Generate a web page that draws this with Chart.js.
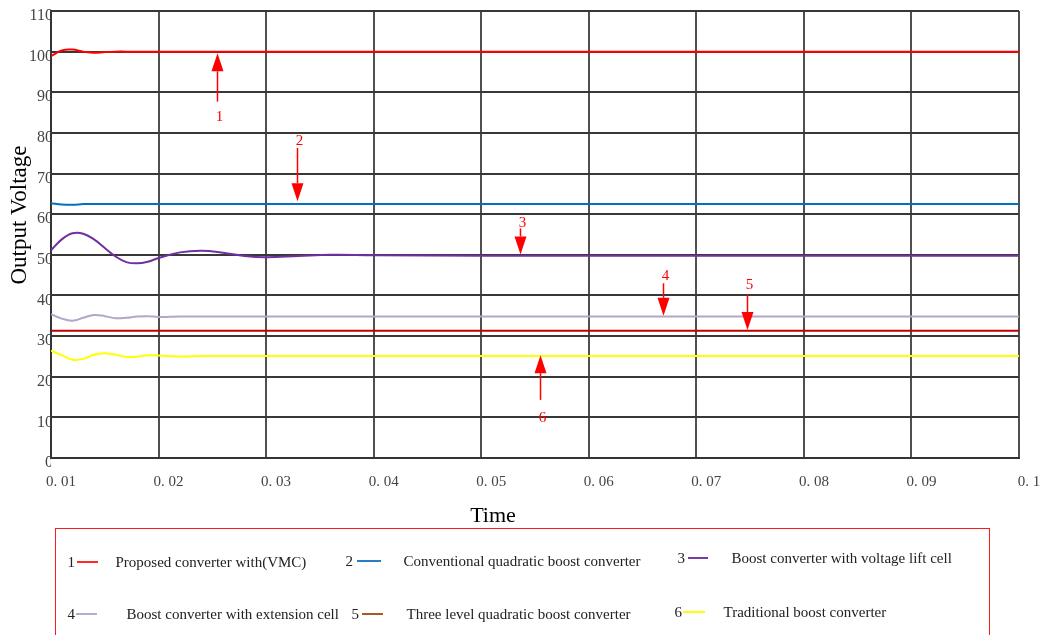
<!DOCTYPE html>
<html>
<head>
<meta charset="utf-8">
<script src="https://cdn.jsdelivr.net/npm/chart.js@4.4.1/dist/chart.umd.min.js"></script>
<style>
html, body { margin: 0; padding: 0; background: #fff; }
#wrap { position: relative; width: 1041px; height: 635px; overflow: hidden; }
#chart { position: absolute; left: 0; top: 0; }
.axis-title { position: absolute; font-family: "Liberation Serif", serif; font-size: 22px; color: #000;
  white-space: nowrap; line-height: 26px; }
#x-title { left: 443px; top: 502px; width: 100px; text-align: center; }
#y-title { left: -61px; top: 202px; width: 160px; text-align: center; transform: rotate(-90deg); font-size: 23px; }
#legend { position: absolute; left: 55px; top: 528px; width: 933px; height: 130px;
  border: 1.5px solid #ff1a1a; font-family: "Liberation Serif", serif; font-size: 15px; color: #222; }
#legend span { position: absolute; white-space: nowrap; line-height: 18px; }
#legend .swatch { height: 2px; }
</style>
</head>
<body>
<div id="wrap">
  <canvas id="chart" width="1041" height="635"></canvas>
  <div class="axis-title" id="x-title">Time</div>
  <div class="axis-title" id="y-title">Output Voltage</div>
  <div id="legend"></div>
</div>
<script>
// time axis (s)
var times = [0.01, 0.011, 0.012, 0.013, 0.014, 0.015, 0.016, 0.017, 0.018, 0.019, 0.02,
             0.022, 0.024, 0.026, 0.028, 0.03, 0.033, 0.036, 0.04, 0.05, 0.06, 0.07, 0.08, 0.09, 0.1];

// output voltage of each converter (V)
var proposedVMC   = [98.9, 100.3, 100.5, 100.0, 99.7, 99.9, 100.0, 100.0, 100.0, 100.0, 100.0,
                     100.0, 100.0, 100.0, 100.0, 100.0, 100.0, 100.0, 100.0, 100.0, 100.0, 100.0, 100.0, 100.0, 100.0];
var conventional  = [62.7, 62.4, 62.3, 62.5, 62.5, 62.5, 62.5, 62.5, 62.5, 62.5, 62.5,
                     62.5, 62.5, 62.5, 62.5, 62.5, 62.5, 62.5, 62.5, 62.5, 62.5, 62.5, 62.5, 62.5, 62.5];
var voltageLift   = [51.1, 53.8, 55.3, 55.2, 53.8, 51.7, 49.6, 48.2, 47.9, 48.3, 49.2,
                     50.6, 51.0, 50.5, 49.7, 49.4, 49.7, 50.0, 49.9, 49.8, 49.8, 49.8, 49.8, 49.8, 49.8];
var extensionCell = [35.4, 34.3, 33.8, 34.5, 35.2, 34.9, 34.4, 34.5, 34.8, 34.9, 34.7,
                     34.8, 34.8, 34.8, 34.8, 34.8, 34.8, 34.8, 34.8, 34.8, 34.8, 34.8, 34.8, 34.8, 34.8];
var threeLevel    = [31.3, 31.3, 31.3, 31.3, 31.3, 31.3, 31.3, 31.3, 31.3, 31.3, 31.3,
                     31.3, 31.3, 31.3, 31.3, 31.3, 31.3, 31.3, 31.3, 31.3, 31.3, 31.3, 31.3, 31.3, 31.3];
var traditional   = [26.4, 25.3, 24.2, 24.4, 25.4, 25.8, 25.4, 24.9, 24.9, 25.3, 25.2,
                     25.0, 25.1, 25.1, 25.1, 25.1, 25.1, 25.1, 25.1, 25.1, 25.1, 25.1, 25.1, 25.1, 25.1];

var seriesNames = ['Proposed converter with(VMC)', 'Conventional quadratic boost converter',
                   'Boost converter with voltage lift cell', 'Boost converter with extension cell',
                   'Three level quadratic boost converter', 'Traditional boost converter'];

var xTickValues = [0.01, 0.02, 0.03, 0.04, 0.05, 0.06, 0.07, 0.08, 0.09, 0.1];
var xTickLabels = ['0. 01', '0. 02', '0. 03', '0. 04', '0. 05', '0. 06', '0. 07', '0. 08', '0. 09', '0. 1'];
var yTickValues = [0, 10, 20, 30, 40, 50, 60, 70, 80, 90, 100, 110];

// numbered arrows: x position, tail, tip and number position in data units
var arrows = [
    { label: '1', x: 0.0254, tail: 87.7, tip: 99.6, textY: 84.0 },
    { label: '2', x: 0.0329, tail: 76.3, tip: 63.2, textY: 78.0 },
    { label: '3', x: 0.0536, tail: 56.5, tip: 50.1, textY: 57.9 },
    { label: '4', x: 0.0669, tail: 43.0, tip: 35.0, textY: 44.8 },
    { label: '5', x: 0.0747, tail: 40.3, tip: 31.5, textY: 42.6 },
    { label: '6', x: 0.0555, tail: 14.3, tip: 25.3, textY: 9.8 }
];

var lineColors   = ['#ff0000', '#0070c0', '#7030a0', '#b4a6c9', '#c00000', '#ffff00'];
var legendColors = ['#ff2a2a', '#2a7cc4', '#7a3aa8', '#b8aacb', '#a8582a', '#ffff00'];

function toPoints(vals) {
    return times.map(function(t, i) { return { x: t, y: vals[i] }; });
}

var allSeries = [proposedVMC, conventional, voltageLift, extensionCell, threeLevel, traditional];

var datasets = allSeries.map(function(vals, i) {
    return {
        label: seriesNames[i],
        data: toPoints(vals),
        borderColor: lineColors[i],
        borderWidth: 2,
        pointRadius: 0,
        tension: 0.4,
        fill: false
    };
});

var serif = '"Liberation Serif", "Times New Roman", serif';

var arrowPlugin = {
    id: 'arrows',
    afterDatasetsDraw: function(chart) {
        var ctx = chart.ctx, xs = chart.scales.x, ys = chart.scales.y;
        ctx.save();
        ctx.strokeStyle = '#ff0000';
        ctx.fillStyle = '#ff0000';
        ctx.lineWidth = 1.5;
        ctx.font = '15px ' + serif;
        ctx.textAlign = 'center';
        ctx.textBaseline = 'middle';
        arrows.forEach(function(a) {
            var px = Math.round(xs.getPixelForValue(a.x)) + 0.5;
            var tail = ys.getPixelForValue(a.tail);
            var tip = ys.getPixelForValue(a.tip);
            var dir = tip > tail ? 1 : -1;
            var base = tip - dir * 18;
            ctx.beginPath();
            ctx.moveTo(px, tail);
            ctx.lineTo(px, base);
            ctx.stroke();
            ctx.beginPath();
            ctx.moveTo(px, tip);
            ctx.lineTo(px - 6, base);
            ctx.lineTo(px + 6, base);
            ctx.closePath();
            ctx.fill();
            ctx.fillText(a.label, px + 2, ys.getPixelForValue(a.textY));
        });
        ctx.restore();
    }
};

var chart = new Chart(document.getElementById('chart'), {
    type: 'line',
    data: { datasets: datasets },
    options: {
        responsive: false,
        animation: false,
        layout: { padding: { left: 0, top: 11, right: 22, bottom: 100 } },
        plugins: { legend: { display: false }, tooltip: { enabled: false } },
        scales: {
            x: {
                type: 'linear',
                min: 0.01,
                max: 0.1,
                afterBuildTicks: function(s) { s.ticks = xTickValues.map(function(v) { return { value: v }; }); },
                afterFit: function(s) { s.height = 77; s.paddingLeft = 0; s.paddingRight = 0; },
                grid: { color: '#505050', lineWidth: 2, drawTicks: false },
                border: { color: '#333', width: 2 },
                ticks: {
                    padding: 15, labelOffset: 10, maxRotation: 0, autoSkip: false,
                    color: '#444', font: { family: serif, size: 15 },
                    callback: function(v, i) { return xTickLabels[i]; }
                }
            },
            y: {
                min: 0,
                max: 110,
                afterBuildTicks: function(s) { s.ticks = yTickValues.map(function(v) { return { value: v }; }); },
                afterFit: function(s) { s.width = 51; s.paddingTop = 0; s.paddingBottom = 0; },
                grid: { color: '#383838', lineWidth: 2, drawTicks: false },
                border: { color: '#333', width: 2 },
                ticks: { padding: -2, labelOffset: 5, color: '#444', font: { family: serif, size: 16 } }
            }
        }
    },
    plugins: [arrowPlugin]
});

// legend box: [number x, line start, line end, text x, centre y] relative to page
var legendSlots = [
    [68, 77, 98, 116, 562],
    [346, 357, 381, 404, 561],
    [678, 688, 708, 732, 558],
    [68, 76, 97, 127, 614],
    [352, 362, 383, 407, 614],
    [675, 683, 705, 724, 612]
];

var legend = document.getElementById('legend');
seriesNames.forEach(function(name, i) {
    var s = legendSlots[i];
    var ox = 56.5, oy = 529.5;
    var num = document.createElement('span');
    num.textContent = String(i + 1);
    num.style.left = (s[0] - ox) + 'px';
    num.style.top = (s[4] - oy - 9) + 'px';
    var sw = document.createElement('span');
    sw.className = 'swatch';
    sw.style.left = (s[1] - ox) + 'px';
    sw.style.width = (s[2] - s[1]) + 'px';
    sw.style.top = (s[4] - oy - 1) + 'px';
    sw.style.background = legendColors[i];
    var txt = document.createElement('span');
    txt.textContent = name;
    txt.style.left = (s[3] - ox) + 'px';
    txt.style.top = (s[4] - oy - 9) + 'px';
    legend.appendChild(num);
    legend.appendChild(sw);
    legend.appendChild(txt);
});
</script>
</body>
</html>
